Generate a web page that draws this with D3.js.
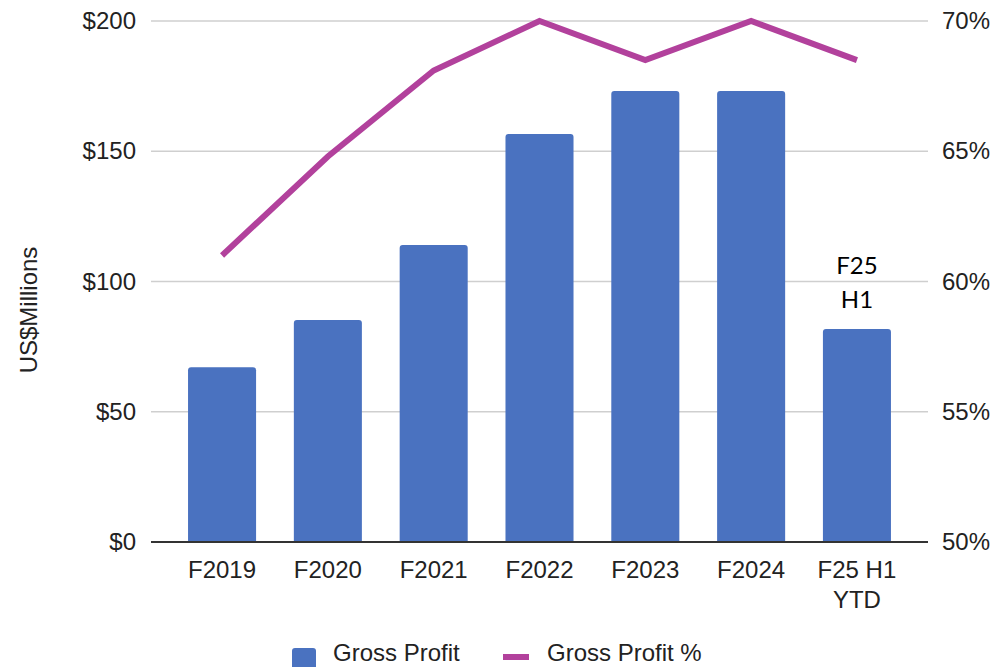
<!DOCTYPE html>
<html>
<head>
<meta charset="utf-8">
<script src="https://cdn.jsdelivr.net/npm/d3@7"></script>
<style>
  html, body { margin: 0; padding: 0; background: #fff; }
  svg { display: block; }
  text { font-family: "Liberation Sans", Arial, sans-serif; fill: #222; }
</style>
</head>
<body>
<svg id="chart" width="995" height="667"></svg>
<script>
const categories = ["F2019", "F2020", "F2021", "F2022", "F2023", "F2024", "F25 H1 YTD"];
const categoryLines = [["F2019"], ["F2020"], ["F2021"], ["F2022"], ["F2023"], ["F2024"], ["F25 H1", "YTD"]];
const grossProfit = [67.1, 85.2, 114.0, 156.6, 173.1, 173.1, 81.8];
const grossProfitPct = [61.0, 64.8, 68.1, 70.0, 68.5, 70.0, 68.5];
const leftTicks = [0, 50, 100, 150, 200];
const rightTicks = [50, 55, 60, 65, 70];
const annotationLines = ["F25", "H1"];

const barColor = "#4A72C0";
const lineColor = "#B2419C";

const svg = d3.select("#chart");
const plotLeft = 151, plotRight = 928, plotTop = 21, plotBottom = 542;

const x = d3.scaleBand().domain(categories).range([plotLeft, plotRight]).paddingInner(0.357).paddingOuter(0.35);
const yL = d3.scaleLinear().domain([0, 200]).range([plotBottom, plotTop]);
const yR = d3.scaleLinear().domain([50, 70]).range([plotBottom, plotTop]);

// gridlines
svg.append("g").selectAll("line").data(leftTicks.filter(d => d > 0)).join("line")
  .attr("x1", plotLeft).attr("x2", plotRight)
  .attr("y1", d => yL(d)).attr("y2", d => yL(d))
  .attr("stroke", "#cfcfcf").attr("stroke-width", 1.5);

// left axis
const axL = svg.append("g").attr("transform", `translate(${plotLeft},0)`)
  .call(d3.axisLeft(yL).tickValues(leftTicks).tickFormat(d => "$" + d).tickSize(0).tickPadding(15));
axL.select(".domain").remove();
axL.selectAll("text").attr("font-size", 24).attr("fill", "#222").attr("font-family", "Liberation Sans, Arial, sans-serif");

// right axis
const axR = svg.append("g").attr("transform", `translate(${plotRight},0)`)
  .call(d3.axisRight(yR).tickValues(rightTicks).tickFormat(d => d + "%").tickSize(0).tickPadding(14));
axR.select(".domain").remove();
axR.selectAll("text").attr("font-size", 24).attr("fill", "#222").attr("font-family", "Liberation Sans, Arial, sans-serif");

// bars with rounded top corners
const rr = 3;
svg.append("g").selectAll("path").data(grossProfit).join("path")
  .attr("fill", barColor)
  .attr("d", (d, i) => {
    const x0 = x(categories[i]), w = x.bandwidth();
    const y0 = yL(d), yb = yL(0);
    return `M${x0},${yb} L${x0},${y0 + rr} Q${x0},${y0} ${x0 + rr},${y0} L${x0 + w - rr},${y0} Q${x0 + w},${y0} ${x0 + w},${y0 + rr} L${x0 + w},${yb} Z`;
  });

// baseline
svg.append("line").attr("x1", plotLeft).attr("x2", plotRight)
  .attr("y1", yL(0)).attr("y2", yL(0))
  .attr("stroke", "#333").attr("stroke-width", 2);

// line series
const line = d3.line()
  .x((d, i) => x(categories[i]) + x.bandwidth() / 2)
  .y(d => yR(d));
svg.append("path").datum(grossProfitPct)
  .attr("d", line)
  .attr("fill", "none").attr("stroke", lineColor).attr("stroke-width", 6)
  .attr("stroke-linejoin", "miter");

// x labels
const xl = svg.append("g");
categories.forEach((c, i) => {
  const cx = x(c) + x.bandwidth() / 2;
  const t = xl.append("text").attr("text-anchor", "middle").attr("font-size", 24);
  categoryLines[i].forEach((ln, j) => {
    t.append("tspan").attr("x", cx).attr("y", 578 + j * 30).text(ln);
  });
});

// annotation
const lastCat = categories[categories.length - 1];
const ann = svg.append("text").attr("text-anchor", "middle")
  .attr("font-size", 24)
  .style("font-family", "Lato, 'Open Sans', sans-serif").style("fill", "#000");
annotationLines.forEach((ln, j) => {
  ann.append("tspan").attr("x", x(lastCat) + x.bandwidth() / 2).attr("y", 274 + j * 34).text(ln);
});

// y axis title
svg.append("text")
  .attr("transform", "translate(37,310) rotate(-90)")
  .attr("text-anchor", "middle").attr("font-size", 24)
  .text("US$Millions");

// legend
const lg = svg.append("g");
lg.append("rect").attr("x", 292).attr("y", 648).attr("width", 24).attr("height", 24).attr("rx", 3).attr("fill", barColor);
lg.append("text").attr("x", 333).attr("y", 661).attr("font-size", 24).text("Gross Profit");
lg.append("rect").attr("x", 503).attr("y", 654).attr("width", 26).attr("height", 6).attr("fill", lineColor);
lg.append("text").attr("x", 547).attr("y", 661).attr("font-size", 24).text("Gross Profit %");
</script>
</body>
</html>
